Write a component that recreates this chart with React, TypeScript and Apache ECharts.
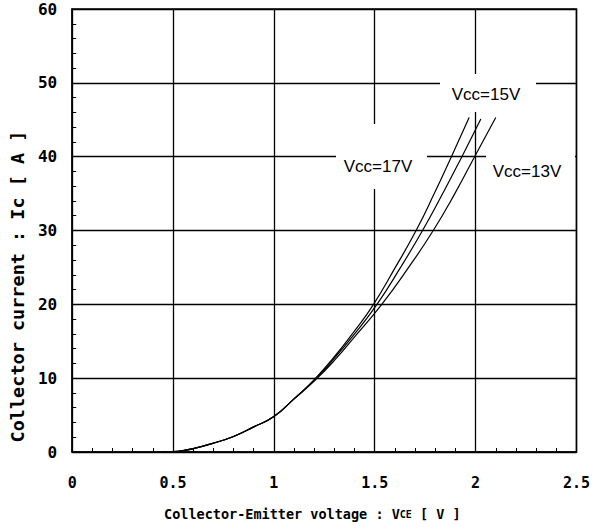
import React, { useEffect, useRef } from "react";
import * as echarts from "echarts";

// Collector-Emitter voltage VCE [V] and collector current IC [A] for each Vcc
const vce17 = [0.45, 0.5, 0.55, 0.6, 0.7, 0.8, 0.9, 1.0, 1.1, 1.2, 1.3, 1.4, 1.494, 1.602, 1.705, 1.795, 1.88, 1.968];
const ic17 = [0, 0.05, 0.2, 0.45, 1.2, 2.1, 3.4, 4.8, 7.2, 9.8, 12.9, 16.4, 20, 25, 30, 35, 40, 45.3];

const vce15 = [0.45, 0.5, 0.55, 0.6, 0.7, 0.8, 0.9, 1.0, 1.1, 1.2, 1.3, 1.4, 1.511, 1.628, 1.737, 1.837, 1.932, 2.026];
const ic15 = [0, 0.05, 0.2, 0.45, 1.2, 2.1, 3.4, 4.8, 7.2, 9.7, 12.7, 16.0, 20, 25, 30, 35, 40, 45.1];

const vce13 = [0.45, 0.5, 0.55, 0.6, 0.7, 0.8, 0.9, 1.0, 1.1, 1.2, 1.3, 1.4, 1.535, 1.668, 1.79, 1.897, 1.995, 2.1];
const ic13 = [0, 0.05, 0.2, 0.45, 1.2, 2.1, 3.4, 4.8, 7.2, 9.6, 12.4, 15.6, 20, 25, 30, 35, 40, 45.3];

const seriesNames = ["Vcc=17V", "Vcc=15V", "Vcc=13V"];

const xTickLabels = ["0", "0.5", "1", "1.5", "2", "2.5"];
const yTickLabels = ["0", "10", "20", "30", "40", "50", "60"];

const pair = (xs: number[], ys: number[]) => xs.map((x, i) => [x, ys[i]]);

const MONO = "'DejaVu Sans Mono', monospace";
const SANS = "'Liberation Sans', Arial, sans-serif";

export default function App() {
  const ref = useRef<HTMLDivElement>(null);
  useEffect(() => {
    if (!ref.current) return;
    const chart = echarts.init(ref.current, undefined, { renderer: "svg" });
    const curves = [pair(vce17, ic17), pair(vce15, ic15), pair(vce13, ic13)];
    const labelText = (name: string, x: number, y: number) => ({
      type: "text",
      x,
      y,
      z: 10,
      style: {
        text: name,
        fill: "#000",
        font: `17px ${SANS}`,
        align: "center",
        verticalAlign: "middle",
      },
    });
    const whiteBox = (x: number, y: number, w: number, h: number) => ({
      type: "rect",
      z: 5,
      shape: { x, y, width: w, height: h },
      style: { fill: "#fff" },
    });
    chart.setOption({
      animation: false,
      backgroundColor: "#fff",
      grid: {
        left: 70,
        right: 16,
        top: 9,
        bottom: 78,
        show: true,
        borderColor: "#000",
        borderWidth: 1.5,
        backgroundColor: "transparent",
      },
      xAxis: {
        type: "value",
        min: 0,
        max: 2.5,
        interval: 0.5,
        name: "Collector-Emitter voltage : V{s|CE} [ V ]",
        nameLocation: "middle",
        nameGap: 55,
        nameTextStyle: {
          fontFamily: MONO,
          fontWeight: "bold",
          fontSize: 13.5,
          color: "#000",
          padding: [0, 24, 0, 0],
          rich: {
            s: { fontFamily: MONO, fontWeight: "bold", fontSize: 10, color: "#000" },
          },
        },
        axisLine: { show: true, lineStyle: { color: "#000", width: 1.5 } },
        axisTick: { show: false },
        minorTick: { show: true, splitNumber: 5, length: -4, lineStyle: { color: "#000", width: 1 } },
        splitLine: { show: true, lineStyle: { color: "#000", width: 1.3 } },
        axisLabel: {
          margin: 23,
          fontFamily: MONO,
          fontWeight: "bold",
          fontSize: 15,
          color: "#000",
          formatter: (v: number) => xTickLabels[Math.round(v / 0.5)] ?? String(v),
        },
      },
      yAxis: {
        type: "value",
        min: 0,
        max: 60,
        interval: 10,
        name: "Collector current : Ic [ A ]",
        nameLocation: "middle",
        nameGap: 44,
        nameTextStyle: {
          fontFamily: MONO,
          fontWeight: "bold",
          fontSize: 18.5,
          color: "#000",
          padding: [0, 112, 0, 0],
        },
        axisLine: { show: true, lineStyle: { color: "#000", width: 1.5 } },
        axisTick: { show: false },
        minorTick: { show: true, splitNumber: 5, length: -4, lineStyle: { color: "#000", width: 1 } },
        splitLine: { show: true, lineStyle: { color: "#000", width: 1.3 } },
        axisLabel: {
          margin: 15,
          fontFamily: MONO,
          fontWeight: "bold",
          fontSize: 16,
          color: "#000",
          formatter: (v: number) => yTickLabels[Math.round(v / 10)] ?? String(v),
        },
      },
      graphic: [
        whiteBox(440, 74, 96, 38),
        whiteBox(336, 124, 91, 65),
        whiteBox(486, 150, 89, 36),
        labelText(seriesNames[1], 486, 94),
        labelText(seriesNames[0], 378, 166),
        labelText(seriesNames[2], 527, 171),
      ],
      series: curves.map((data, i) => ({
        name: seriesNames[i],
        type: "line",
        data,
        z: 20,
        smooth: 0.5,
        showSymbol: false,
        lineStyle: { color: "#000", width: 1.2 },
      })),
    });
    return () => chart.dispose();
  }, []);
  return (
    <div
      ref={ref}
      style={{ position: "fixed", left: 0, top: 0, width: 593, height: 530 }}
    />
  );
}
